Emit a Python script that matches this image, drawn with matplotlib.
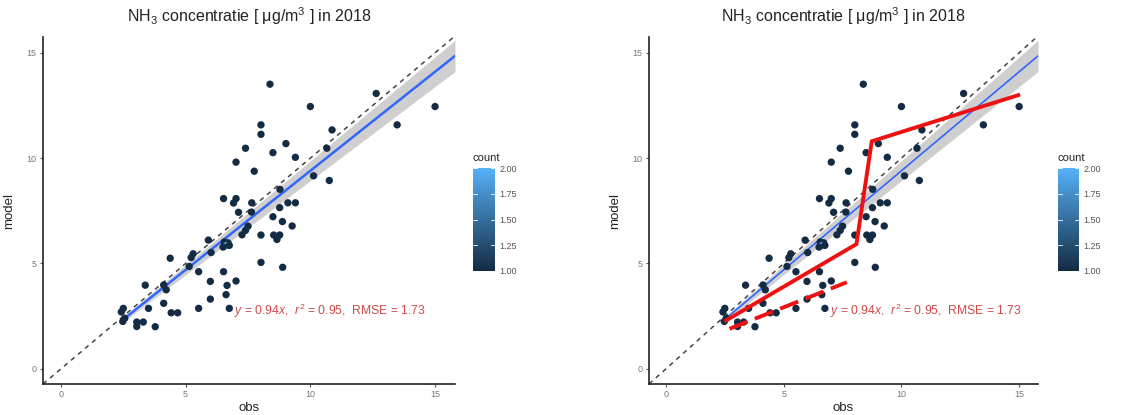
import matplotlib
matplotlib.use("Agg")
import matplotlib.pyplot as plt
import numpy as np
from matplotlib.colors import LinearSegmentedColormap, Normalize
from matplotlib.cm import ScalarMappable

plt.rcParams['font.family'] = ['Liberation Sans', 'DejaVu Sans']
plt.rcParams['mathtext.fontset'] = 'custom'
plt.rcParams['mathtext.rm'] = 'Liberation Sans'
plt.rcParams['mathtext.it'] = 'Liberation Sans:italic'

obs = [8.38, 12.64, 10.0, 15.0, 8.02, 13.48, 8.02, 10.87, 9.02, 7.40,
       10.66, 8.50, 9.40, 7.02, 7.75, 10.13, 10.76, 8.78, 6.52, 7.02,
       6.92, 7.65, 9.10, 9.40, 8.77, 7.12, 7.64, 8.50, 8.88, 9.27,
       7.50, 7.40, 7.26, 8.02, 8.53, 8.77, 8.66, 5.91, 6.55, 6.70,
       6.62, 6.75, 6.50, 6.02, 5.30, 5.22, 4.38, 5.14, 8.02, 8.89,
       5.52, 6.52, 5.99, 7.02, 6.66, 3.38, 4.12, 4.22, 6.62, 5.99,
       4.12, 3.51, 5.52, 6.75, 4.42, 4.68, 2.50, 2.42, 2.56, 2.48,
       3.04, 3.30, 3.04, 3.78]
model = [13.51, 13.07, 12.45, 12.45, 11.58, 11.58, 11.13, 11.34, 10.69, 10.47,
         10.47, 10.26, 10.04, 9.81, 9.38, 9.16, 8.94, 8.52, 8.08, 8.08,
         7.87, 7.88, 7.88, 7.88, 7.65, 7.43, 7.44, 7.22, 6.99, 6.78,
         6.77, 6.57, 6.36, 6.35, 6.35, 6.35, 6.14, 6.11, 6.02, 5.98,
         5.84, 5.86, 5.78, 5.52, 5.46, 5.28, 5.25, 4.86, 5.05, 4.82,
         4.61, 4.61, 4.15, 4.17, 3.96, 3.97, 3.98, 3.75, 3.52, 3.31,
         3.11, 2.87, 2.87, 2.87, 2.66, 2.66, 2.87, 2.70, 2.40, 2.25,
         2.22, 2.22, 2.01, 2.00]
count = [1] * len(obs)
count[40] = 2  # hidden under the cluster near (6.6, 5.9)

slope = 0.94
se_coef = 0.047  # half width of the band relative to x
label = r'$y$ = 0.94$x$,  $r^2$ = 0.95,  RMSE = 1.73'
title = 'NH$_3$ concentratie [ μg/m$^3$ ] in 2018'

# hand-drawn red lines on the right panel
red_x = [2.56, 8.09, 8.74, 14.96]
red_y = [2.30, 5.92, 10.80, 12.99]
red_dash_x = [2.70, 7.68]
red_dash_y = [1.90, 4.11]

cb_ticks = [1.0, 1.25, 1.5, 1.75, 2.0]
cmap = LinearSegmentedColormap.from_list('gg', ['#132B43', '#56B1F7'])
norm = Normalize(1, 2)

fig = plt.figure(figsize=(11.3, 4.15), dpi=100)


def panel(rect, crect, red, blue_lw):
    ax = fig.add_axes(rect)
    ax.set_xlim(-0.72, 15.8)
    ax.set_ylim(-0.72, 15.75)
    lim = np.array([-0.72, 15.8])
    ax.plot(lim, lim, ls=(0, (3, 3)), color='#444444', lw=1.1, zorder=1)
    xs = np.linspace(min(obs), 15.8, 50)
    ax.fill_between(xs, slope * xs - se_coef * xs, slope * xs + se_coef * xs,
                    color='#cfcfcf', lw=0, zorder=2)
    ax.plot(xs, slope * xs, color='#3366FF', lw=blue_lw, zorder=3)
    ax.scatter(obs, model, c=count, cmap=cmap, norm=norm, s=28,
               linewidths=0, zorder=4)
    ax.text(6.95, 2.75, label, color='#D04848', fontsize=8.7, va='center',
            ha='left', zorder=5)
    if red:
        ax.plot(red_x, red_y, color='#EE1111', lw=2.8, zorder=6,
                solid_joinstyle='miter')
        ax.plot(red_dash_x, red_dash_y, color='#EE1111', lw=2.8,
                ls=(0, (5, 2)), zorder=6)
    for s in ['top', 'right']:
        ax.spines[s].set_visible(False)
    for s in ['left', 'bottom']:
        ax.spines[s].set_color('#222222')
        ax.spines[s].set_linewidth(1.2)
    ax.set_xticks([0, 5, 10, 15])
    ax.set_yticks([0, 5, 10, 15])
    ax.tick_params(length=2.5, width=0.8, color='#555555', labelsize=6.5,
                   labelcolor='#777777', pad=2)
    ax.set_xlabel('obs', fontsize=9.5, labelpad=2, color='#222222')
    ax.set_ylabel('model', fontsize=9.5, labelpad=8, color='#222222')
    ax.set_title(title, fontsize=11.5, pad=11, color='#222222')

    cax = fig.add_axes(crect)
    cb = fig.colorbar(ScalarMappable(norm=norm, cmap=cmap), cax=cax)
    cb.outline.set_visible(False)
    cb.set_ticks(cb_ticks)
    cb.set_ticklabels(['%.2f' % t for t in cb_ticks])
    cax.tick_params(length=0, labelsize=6.5, labelcolor='#555555', pad=3)
    for t in cb_ticks:
        cax.plot([0, 0.2], [t, t], color='white', lw=0.6)
        cax.plot([0.8, 1], [t, t], color='white', lw=0.6)
    cax.set_title('count', loc='left', fontsize=8, pad=5, color='#222222')


panel([43 / 1130, 31 / 415, 412 / 1130, 347 / 415],
      [473 / 1130, 144 / 415, 22 / 1130, 103 / 415], False, 1.8)
panel([649 / 1130, 31 / 415, 389 / 1130, 347 / 415],
      [1058 / 1130, 144 / 415, 21 / 1130, 103 / 415], True, 1.2)

fig.savefig('out.png', dpi=100)
